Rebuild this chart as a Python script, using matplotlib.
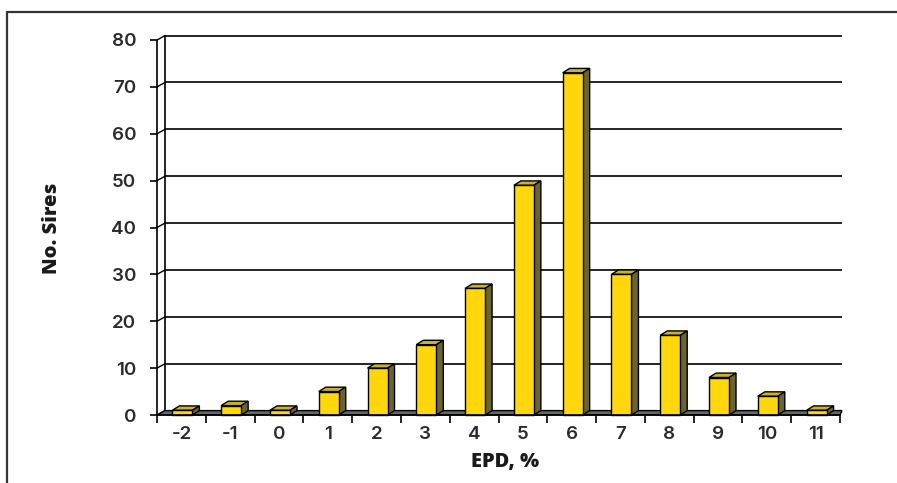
import matplotlib
matplotlib.use("Agg")
import matplotlib.pyplot as plt
from matplotlib.patches import Polygon
from matplotlib.lines import Line2D
import numpy as np

categories = ["-2", "-1", "0", "1", "2", "3", "4", "5", "6", "7", "8", "9", "10", "11"]
sires = [1, 2, 1, 5, 10, 15, 27, 49, 73, 30, 17, 8, 4, 1]
y_ticks = [0, 10, 20, 30, 40, 50, 60, 70, 80]
x_label = "EPD, %"
y_label = "No. Sires"

W, H = 897, 483
fig = plt.figure(figsize=(W / 100, H / 100), dpi=100)
plt.rcParams['font.family'] = ['Open Sans', 'DejaVu Sans']

# front plane in pixels
L, R, T, B = 157, 840, 40, 415
ax = fig.add_axes([L / W, 1 - B / H, (R - L) / W, (B - T) / H])
n = len(categories)
ax.set_xlim(-0.5, n - 0.5)
ax.set_ylim(0, 80)
ax.patch.set_visible(False)

pxx = (R - L) / n
pxy = (B - T) / 80.0
dx = 7 / pxx
dy = 4.4 / pxy
back_l = -0.5 + 8 / pxx
back_r = n - 0.5 + 2 / pxx

FRONT = "#FFD70A"
TOP = "#C9B225"
SIDE = "#6B6431"
FLOOR = "#5E6A6A"

# back wall gridlines
for v in y_ticks:
    ax.plot([back_l, back_r], [v + dy, v + dy], color="black", lw=1.2,
            clip_on=False, zorder=1, solid_capstyle="butt")
    ax.plot([-0.5, back_l], [v, v + dy], color="black", lw=1.0,
            clip_on=False, zorder=1)
# back wall left edge
ax.plot([back_l, back_l], [dy, 80 + dy], color="black", lw=1.2, clip_on=False, zorder=1)

# floor
floor = Polygon([(-0.5, 0), (n - 0.5, 0), (back_r, dy), (back_l, dy)],
                closed=True, facecolor=FLOOR, edgecolor="black", lw=1.0,
                clip_on=False, zorder=2)
ax.add_patch(floor)

x = np.arange(n)
bw = 0.41
bars = ax.bar(x + 0.02, sires, width=bw, color=FRONT, edgecolor="black",
              linewidth=1.0, zorder=4, clip_on=False)
for b in bars:
    x0 = b.get_x()
    x1 = x0 + b.get_width()
    h = b.get_height()
    top = Polygon([(x0, h), (x1, h), (x1 + dx, h + dy), (x0 + dx, h + dy)],
                  closed=True, facecolor=TOP, edgecolor="black", lw=1.0,
                  zorder=3, clip_on=False)
    side = Polygon([(x1, 0), (x1 + dx, dy), (x1 + dx, h + dy), (x1, h)],
                   closed=True, facecolor=SIDE, edgecolor="black", lw=1.0,
                   zorder=3, clip_on=False)
    ax.add_patch(top)
    ax.add_patch(side)

# spines
for s in ["top", "right"]:
    ax.spines[s].set_visible(False)
ax.spines["left"].set_linewidth(1.2)
ax.spines["bottom"].set_linewidth(1.2)
ax.spines["left"].set_zorder(5)
ax.spines["bottom"].set_zorder(5)

tick_font = dict(family=["Inter", "DejaVu Sans"], weight="semibold", size=13.5)
ax.set_yticks(y_ticks)
ax.set_yticklabels([str(v) for v in y_ticks], fontdict=tick_font)
ax.tick_params(axis="y", length=5, width=1.2, pad=10,
               labelcolor="#2b2b2b", direction="out")
ax.set_xticks(x)
ax.set_xticklabels(categories, fontdict=tick_font)
ax.set_xticks(np.arange(-0.5, n, 1.0), minor=True)
ax.tick_params(axis="x", which="major", length=0, pad=8,
               labelcolor="#2b2b2b")
ax.tick_params(axis="x", which="minor", length=6, width=1.2, direction="out")

fig.text(505 / W, 1 - 462 / H, x_label, ha="center", va="center",
         fontsize=14.5, fontweight="heavy", color="#1a1a1a")
fig.text(52 / W, 1 - 228 / H, y_label, ha="center", va="center",
         rotation=90, fontsize=14.5, fontweight="heavy", color="#1a1a1a")

# outer frame (left and top)
fig.add_artist(Line2D([7 / W, 7 / W, 1.0], [0.0, 1 - 11.5 / H, 1 - 11.5 / H],
                      color="#333333", lw=1.6, transform=fig.transFigure))

fig.savefig("out.png", dpi=100)
